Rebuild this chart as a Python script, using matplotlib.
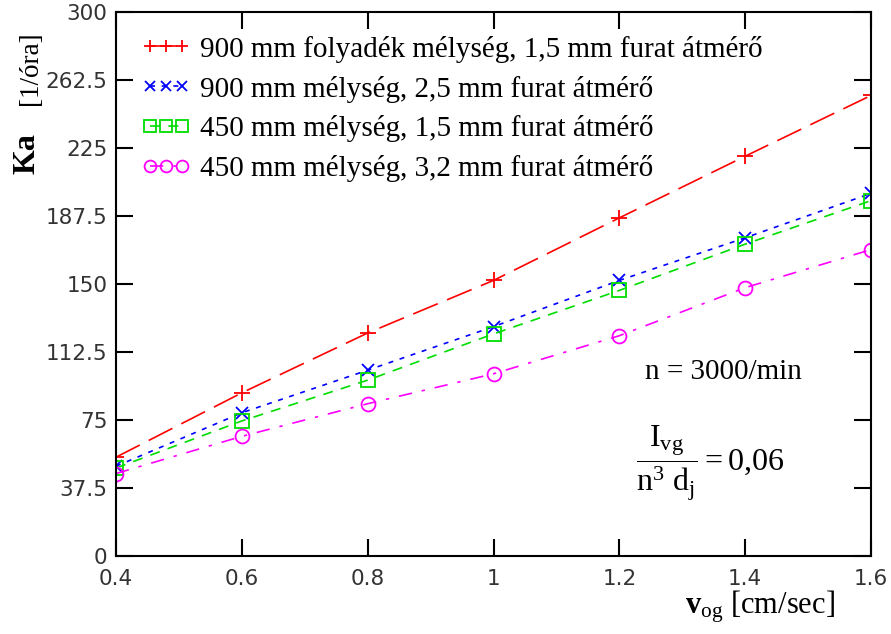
import matplotlib
matplotlib.use("Agg")
import matplotlib.pyplot as plt
from matplotlib.ticker import FixedLocator

plt.rcParams['mathtext.fontset'] = 'custom'
plt.rcParams['mathtext.rm'] = 'Liberation Serif'
plt.rcParams['mathtext.it'] = 'Liberation Serif'
plt.rcParams['mathtext.bf'] = 'Liberation Serif:bold'

# gas velocity [cm/sec]
v_og = [0.4, 0.6, 0.8, 1.0, 1.2, 1.4, 1.6]

# Ka [1/óra] for the four configurations
ka_900_15 = [54.5, 90.0, 123.0, 152.0, 186.5, 220.5, 254.0]
ka_900_25 = [49.5, 79.0, 102.5, 126.5, 152.0, 175.5, 200.0]
ka_450_15 = [48.5, 74.5, 97.0, 122.5, 146.5, 172.0, 196.0]
ka_450_32 = [45.5, 66.0, 84.0, 100.5, 121.5, 148.0, 169.0]

labels = [
    "900 mm folyadék mélység, 1,5 mm furat átmérő",
    "900 mm mélység, 2,5 mm furat átmérő",
    "450 mm mélység, 1,5 mm furat átmérő",
    "450 mm mélység, 3,2 mm furat átmérő",
]

x_ticks = [0.4, 0.6, 0.8, 1.0, 1.2, 1.4, 1.6]
x_ticklabels = ["0.4", "0.6", "0.8", "1", "1.2", "1.4", "1.6"]
y_ticks = [0, 37.5, 75, 112.5, 150, 187.5, 225, 262.5, 300]
y_ticklabels = ["0", "37.5", "75", "112.5", "150", "187.5", "225", "262.5", "300"]

fig = plt.figure(figsize=(8.91, 6.34), dpi=100)
ax = fig.add_axes([0.1302, 0.123, 0.8474, 0.858])

serif = 'Liberation Serif'
sans = 'DejaVu Sans'

ax.plot(v_og, ka_900_15, color='#ff0000', lw=1.2, dashes=(16, 6),
        marker='+', ms=11, mew=1.3, label=labels[0])
ax.plot(v_og, ka_900_25, color='#0000ff', lw=1.2, dashes=(3, 4),
        marker='x', ms=9, mew=1.3, label=labels[1])
ax.plot(v_og, ka_450_15, color='#00dd00', lw=1.2, dashes=(6, 5),
        marker='s', ms=10, mew=1.3, mfc='none', label=labels[2])
ax.plot(v_og, ka_450_32, color='#ff00ff', lw=1.2, dashes=(8, 6, 2, 6),
        marker='o', ms=10, mew=1.3, mfc='none', label=labels[3])

ax.set_xlim(0.4, 1.6)
ax.set_ylim(0, 300)
ax.xaxis.set_major_locator(FixedLocator(x_ticks))
ax.yaxis.set_major_locator(FixedLocator(y_ticks))
ax.set_xticklabels(x_ticklabels, fontfamily=sans, fontsize=15.5, color='#333333')
ax.set_yticklabels(y_ticklabels, fontfamily=sans, fontsize=15.5, color='#333333')
ax.tick_params(direction='in', length=12, width=1.5, top=True, right=True,
               labelright=False, labeltop=False)
ax.tick_params(axis='x', pad=9)
ax.tick_params(axis='y', pad=6)
for s in ax.spines.values():
    s.set_linewidth(1.5)

leg = ax.legend(loc='upper left', bbox_to_anchor=(0.018, 0.978), frameon=False,
                numpoints=3, handlelength=1.7, handletextpad=0.3,
                labelspacing=0.44, borderaxespad=0.0, markerscale=0.85,
                prop={'family': serif, 'size': 21})

# y label: bold "Ka" plus unit
fig.text(0.030, 0.757, "Ka", rotation=90, fontfamily=serif, fontsize=23,
         fontweight='bold', ha='center', va='center')
fig.text(0.034, 0.892, "[1/óra]", rotation=90, fontfamily=serif, fontsize=19.5,
         ha='center', va='center')

# x label
fig.text(0.853, 0.043, r"$\mathbf{v}_{\mathrm{og}}$ [cm/sec]", fontfamily=serif,
         fontsize=22, ha='center', va='center')

ax.text(1.365, 101.5, "n = 3000/min", fontfamily=serif, fontsize=21,
        ha='center', va='center')
ax.text(1.344, 51.3, r"$\dfrac{\mathrm{I_{vg}}}{\mathrm{n^3\ d_j}} = 0{,}06$",
        fontsize=23, ha='center', va='center')

fig.savefig("out.png", dpi=100)
